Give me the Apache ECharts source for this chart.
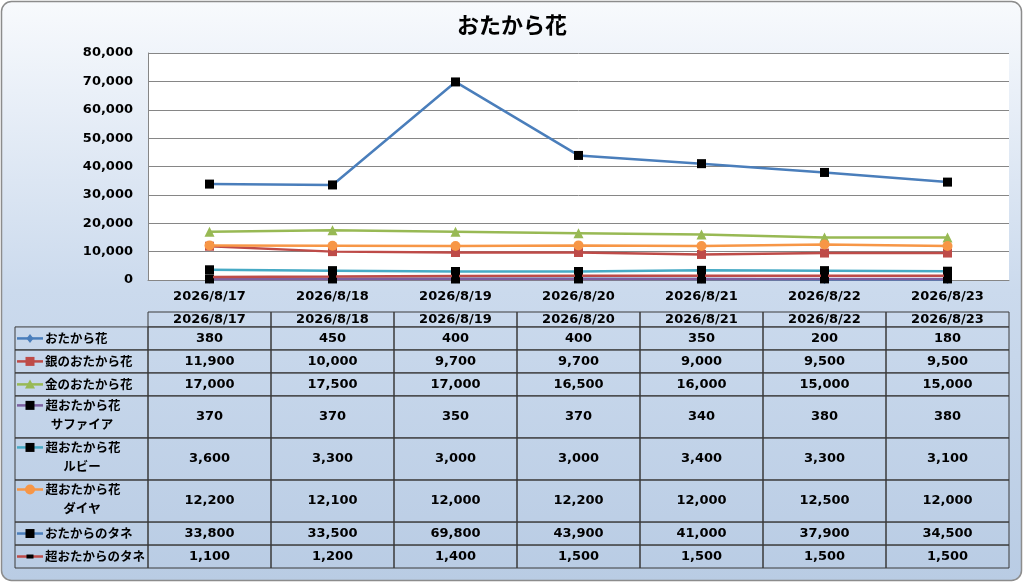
<!DOCTYPE html>
<html><head><meta charset="utf-8">
<script src="https://cdn.jsdelivr.net/npm/echarts@6/dist/echarts.min.js"></script>
<style>html,body{margin:0;padding:0;background:#fff;}#c{width:1024px;height:583px;}</style>
</head><body><div id="c"></div>
<script>
const titleText = 'おたから花';
const dates = ['2026/8/17','2026/8/18','2026/8/19','2026/8/20','2026/8/21','2026/8/22','2026/8/23'];
const yTicks = [0, 80000, 10000];
const seriesNames = ['おたから花','銀のおたから花','金のおたから花','超おたから花\nサファイア','超おたから花\nルビー','超おたから花\nダイヤ','おたからのタネ','超おたからのタネ'];
const otakaraHana = [380, 450, 400, 400, 350, 200, 180];
const ginHana = [11900, 10000, 9700, 9700, 9000, 9500, 9500];
const kinHana = [17000, 17500, 17000, 16500, 16000, 15000, 15000];
const sapphire = [370, 370, 350, 370, 340, 380, 380];
const ruby = [3600, 3300, 3000, 3000, 3400, 3300, 3100];
const diamond = [12200, 12100, 12000, 12200, 12000, 12500, 12000];
const tane = [33800, 33500, 69800, 43900, 41000, 37900, 34500];
const superTane = [1100, 1200, 1400, 1500, 1500, 1500, 1500];

const allValues = [otakaraHana, ginHana, kinHana, sapphire, ruby, diamond, tane, superTane];
const styles = [
  {color:'#4a7ebb', symbol:'diamond', size:9, mcolor:'#4a7ebb'},
  {color:'#be4b48', symbol:'rect', size:9, mcolor:'#be4b48'},
  {color:'#98b954', symbol:'triangle', size:10, mcolor:'#98b954'},
  {color:'#7d60a0', symbol:'rect', size:9, mcolor:'#000'},
  {color:'#46aac5', symbol:'rect', size:9, mcolor:'#000'},
  {color:'#f79646', symbol:'circle', size:10, mcolor:'#f79646'},
  {color:'#4a7ebb', symbol:'rect', size:9, mcolor:'#000'},
  {color:'#be4b48', symbol:'rect', size:[7,4], mcolor:'#000'}
];
const numFont = '"DejaVu Sans", "Noto Sans CJK JP", sans-serif';
const jpFont = '"Noto Sans CJK JP", sans-serif';
const numCss = 'bold 13px ' + numFont;
const jpCss = 'bold 12.5px ' + jpFont;
const fmt = v => v.toLocaleString('en-US');

// table row layout weights (header + rows, by line count)
const rowW = [0.65].concat(seriesNames.map(n => n.split('\n').length > 1 ? 1.83 : 1));
const rowTop = [];
let acc = 0; rowW.forEach(w => { rowTop.push(acc); acc += w; });
const tableMax = acc;

const lineSeries = allValues.map((vals, i) => ({
  name: seriesNames[i].replace('\n',''),
  type: 'line', data: vals, xAxisIndex: 0, yAxisIndex: 0,
  symbol: styles[i].symbol, symbolSize: styles[i].size, showAllSymbol: true,
  lineStyle: {color: styles[i].color, width: 2.5},
  itemStyle: {color: styles[i].mcolor, borderWidth: 0},
  z: 2 + i, silent: true
}));

const tableData = [];
for (let r = 0; r <= seriesNames.length; r++) {
  for (let c = 0; c < dates.length; c++) tableData.push([c, r, 0]);
  if (r > 0) tableData.push([0, r, 1]);
}
const legendW = 133;
function renderItem(params, api) {
  const c = api.value(0), r = api.value(1), kind = api.value(2);
  const bw = api.size([1, 0])[0];
  const p0 = api.coord([c, rowTop[r]]);
  const p1 = api.coord([c, rowTop[r] + rowW[r]]);
  const y0 = p0[1], h = p1[1] - p0[1];
  const stroke = {stroke: '#3a3a3a', lineWidth: 1, fill: null};
  const children = [];
  if (kind === 0) {
    const x0 = p0[0] - bw / 2;
    children.push({type: 'rect', shape: {x: x0, y: y0, width: bw, height: h}, style: stroke});
    const txt = r === 0 ? dates[c] : fmt(allValues[r - 1][c]);
    children.push({type: 'text', style: {text: txt, x: p0[0], y: r === 0 ? y0 + h / 2 + 0.5 : y0 + h / 2,
      align: 'center', verticalAlign: 'middle', font: numCss, fill: '#000'}});
  } else {
    const x1 = p0[0] - bw / 2, x0 = x1 - legendW;
    const s = styles[r - 1];
    const lines = seriesNames[r - 1].split('\n');
    children.push({type: 'rect', shape: {x: x0, y: y0, width: legendW, height: h}, style: stroke});
    const sy = lines.length > 1 ? y0 + 9.5 : y0 + h / 2;
    children.push({type: 'line', shape: {x1: x0 + 2, y1: sy, x2: x0 + 28, y2: sy}, style: {stroke: s.color, lineWidth: 2.5}});
    const sz = Array.isArray(s.size) ? s.size : [s.size, s.size];
    const sym = s.symbol;
    const cx = x0 + 15;
    if (sym === 'rect') children.push({type: 'rect', shape: {x: cx - sz[0] / 2, y: sy - sz[1] / 2, width: sz[0], height: sz[1]}, style: {fill: s.mcolor}});
    else if (sym === 'circle') children.push({type: 'circle', shape: {cx: cx, cy: sy, r: sz[0] / 2}, style: {fill: s.mcolor}});
    else if (sym === 'diamond') children.push({type: 'polygon', shape: {points: [[cx, sy - 4.5], [cx + 3.5, sy], [cx, sy + 4.5], [cx - 3.5, sy]]}, style: {fill: s.mcolor}});
    else if (sym === 'triangle') children.push({type: 'polygon', shape: {points: [[cx, sy - 5], [cx + 5, sy + 4], [cx - 5, sy + 4]]}, style: {fill: s.mcolor}});
    if (lines.length === 1) {
      children.push({type: 'text', style: {text: lines[0], x: x0 + 30, y: sy, align: 'left', verticalAlign: 'middle', font: jpCss, fill: '#000'}});
    } else {
      const mid = x0 + 30 + 38;
      children.push({type: 'text', style: {text: lines[0], x: mid, y: y0 + 9.5, align: 'center', verticalAlign: 'middle', font: jpCss, fill: '#000'}});
      children.push({type: 'text', style: {text: lines[1], x: mid - 1, y: y0 + 28.5, align: 'center', verticalAlign: 'middle', font: jpCss, fill: '#000'}});
    }
  }
  return {type: 'group', children: children};
}

const chart = echarts.init(document.getElementById('c'), null, {renderer: 'canvas'});
chart.setOption({
  animation: false,
  backgroundColor: '#ffffff',
  graphic: [{
    type: 'rect', z: -10, silent: true,
    shape: {x: 1.5, y: 1.5, width: 1020, height: 579, r: 10},
    style: {fill: new echarts.graphic.LinearGradient(0, 0, 0, 1, [
      {offset: 0, color: '#f8fafd'}, {offset: 0.5, color: '#cbdaed'}, {offset: 1, color: '#b9cce4'}]),
      stroke: '#8c8c8c', lineWidth: 1.5}
  }],
  title: {text: titleText, left: 'center', top: 9,
    textStyle: {fontFamily: jpFont, fontSize: 22, fontWeight: 'bold', color: '#000'}},
  grid: [
    {left: 148, right: 15, top: 53, bottom: 303, show: true, backgroundColor: '#ffffff', borderWidth: 0},
    {left: 148, right: 15, top: 312, bottom: 15, show: false}
  ],
  xAxis: [
    {type: 'category', gridIndex: 0, data: dates, boundaryGap: true,
      axisLine: {lineStyle: {color: '#868686', width: 1}}, axisTick: {show: false},
      axisLabel: {margin: 10, color: '#000', fontFamily: numFont, fontWeight: 'bold', fontSize: 13}},
    {type: 'category', gridIndex: 1, data: dates, boundaryGap: true, show: false}
  ],
  yAxis: [
    {type: 'value', gridIndex: 0, min: yTicks[0], max: yTicks[1], interval: yTicks[2],
      axisLine: {show: true, lineStyle: {color: '#868686'}}, axisTick: {show: false},
      splitLine: {lineStyle: {color: '#868686', width: 1}},
      axisLabel: {margin: 15, color: '#000', fontFamily: numFont, fontWeight: 'bold', fontSize: 13, formatter: v => fmt(v)}},
    {type: 'value', gridIndex: 1, min: 0, max: tableMax, inverse: true, show: false}
  ],
  series: lineSeries.concat([{
    type: 'custom', xAxisIndex: 1, yAxisIndex: 1, data: tableData, renderItem: renderItem, silent: true,
    encode: {x: 0, y: 1}
  }])
});
</script></body></html>
